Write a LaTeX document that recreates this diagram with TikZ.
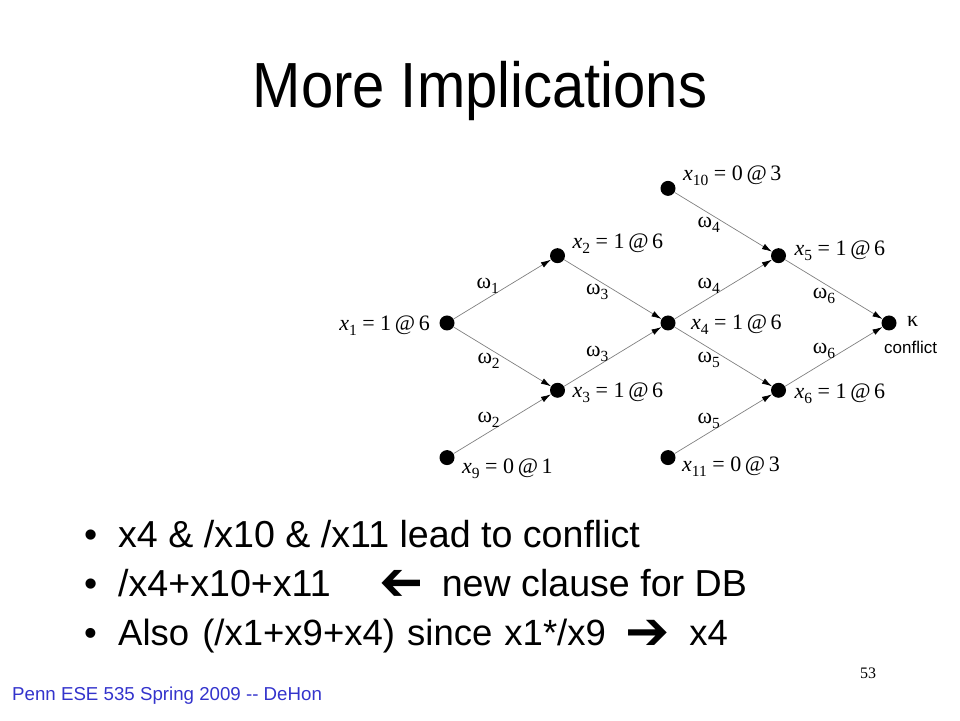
\documentclass[tikz,border=0pt]{standalone}
\usepackage{fontspec}
\setmainfont{Liberation Sans}
\newfontfamily\lblfont{Liberation Serif}
\newfontfamily\symfont{DejaVu Sans}
\usetikzlibrary{arrows.meta,positioning}
\definecolor{footblue}{RGB}{51,51,204}
\newcommand{\lsub}[1]{\raisebox{-5pt}{\fontsize{15.5}{16}\selectfont #1}}
\newcommand{\xlab}[2]{\textit{x}\lsub{#1} = #2}
\newcommand{\wlab}[1]{ω\lsub{#1}}

\begin{document}
\begin{tikzpicture}[x=1pt,y=1pt,->,>={Latex[length=10pt,width=6pt,color=black]},
  node distance=67.3pt and 110.5pt,on grid,
  dot/.style={circle,fill=black,inner sep=0pt,minimum size=15pt},
  lbl/.style={font=\lblfont\fontsize{22}{24}\selectfont,inner sep=0pt},
  item/.style={anchor=base west,inner sep=0pt,font=\fontsize{37.6}{40}\selectfont}]

  \useasboundingbox (0,0) rectangle (960,720);

  \node[anchor=base,font=\fontsize{58}{64}\selectfont] (title) at (480,612) {\scalebox{1}[1.1]{More Implications}};

  % implication graph
  \node[dot] (x1) at (447,397) {};
  \node[dot] (x2) [above right=of x1] {};
  \node[dot] (x3) [below right=of x1] {};
  \node[dot] (x9) [below left=of x3] {};
  \node[dot] (x4) [below right=of x2] {};
  \node[dot] (x10) [above right=of x2] {};
  \node[dot] (x5) [above right=of x4] {};
  \node[dot] (x6) [below right=of x4] {};
  \node[dot] (x11) [below right=of x3] {};
  \node[dot] (k) [below right=of x5] {};

  \node[lbl,anchor=base east] (t1) at ([xshift=-17pt,yshift=-8pt]x1.center) {\xlab{1}{1\,@\,6}};
  \node[lbl,anchor=base west] (t2) at ([xshift=15pt,yshift=7pt]x2.center) {\xlab{2}{1\,@\,6}};
  \node[lbl,anchor=base west] (t3) at ([xshift=15pt,yshift=-7pt]x3.center) {\xlab{3}{1\,@\,6}};
  \node[lbl,anchor=base west] (t9) at ([xshift=15pt,yshift=-16pt]x9.center) {\xlab{9}{0\,@\,1}};
  \node[lbl,anchor=base west] (t4) at ([xshift=23pt,yshift=-7pt]x4.center) {\xlab{4}{1\,@\,6}};
  \node[lbl,anchor=base west] (t10) at ([xshift=15pt,yshift=8pt]x10.center) {\xlab{10}{0\,@\,3}};
  \node[lbl,anchor=base west] (t5) at ([xshift=16pt,yshift=0pt]x5.center) {\xlab{5}{1\,@\,6}};
  \node[lbl,anchor=base west] (t6) at ([xshift=16pt,yshift=-8pt]x6.center) {\xlab{6}{1\,@\,6}};
  \node[lbl,anchor=base west] (t11) at ([xshift=14pt,yshift=-14pt]x11.center) {\xlab{11}{0\,@\,3}};
  \node[lbl,anchor=base west] (tk) at ([xshift=18pt,yshift=-4pt]k.center) {κ};
  \node[anchor=base west,inner sep=0pt,font=\fontsize{17}{20}\selectfont] (conf) at ([xshift=-5pt,yshift=-31pt]k.center) {conflict};

  \path[draw=black!50,line width=0.7pt,every node/.style={lbl,inner sep=4pt}]
    (x1) edge node[pos=0.35,above] (w1) {\wlab{1}} (x2)
         edge node[pos=0.36,below] (w2) {\wlab{2}} (x3)
    (x9) edge node[pos=0.36,above] (w2b) {\wlab{2}} (x3)
    (x2) edge node[pos=0.34,below] (w3) {\wlab{3}} (x4)
    (x3) edge node[pos=0.34,above] (w3b) {\wlab{3}} (x4)
    (x10) edge node[pos=0.35,below] (w4) {\wlab{4}} (x5)
    (x4) edge node[pos=0.35,above] (w4b) {\wlab{4}} (x5)
         edge node[pos=0.35,below] (w5) {\wlab{5}} (x6)
    (x11) edge node[pos=0.35,above] (w5b) {\wlab{5}} (x6)
    (x5) edge node[pos=0.40,below] (w6) {\wlab{6}} (k)
    (x6) edge node[pos=0.40,above] (w6b) {\wlab{6}} (k);

  % bullet lines
  \node[item] (b1) at (84,172) {\makebox[34pt][l]{•}x4 \& /x10 \& /x11 lead to conflict};
  \node[item] (b2) at (84,124) {\makebox[34pt][l]{•}/x4+x10+x11\hspace{49pt}{\symfont\raisebox{-4pt}{\scalebox{-1.4}[1.45]{➔}}}\hspace{18pt}new clause for DB};
  \node[item,font=\fontsize{36.5}{40}\selectfont] (b3) at (84,75) {\makebox[34pt][l]{•}Also\hspace{3pt} (/x1+x9+x4)\hspace{2pt} since\hspace{2pt} x1*/x9\hspace{19pt}{\symfont\raisebox{-4pt}{\scalebox{1.45}[1.45]{➔}}}\hspace{20pt}x4};

  \node[anchor=base west,inner sep=0pt,text=footblue,font=\fontsize{18.7}{20}\selectfont] (foot) at (12,20) {Penn ESE 535 Spring 2009 -{}- DeHon};
  \node[lbl,anchor=base,font=\lblfont\fontsize{16}{18}\selectfont] (page) at (868,42) {53};
\end{tikzpicture}
\end{document}
